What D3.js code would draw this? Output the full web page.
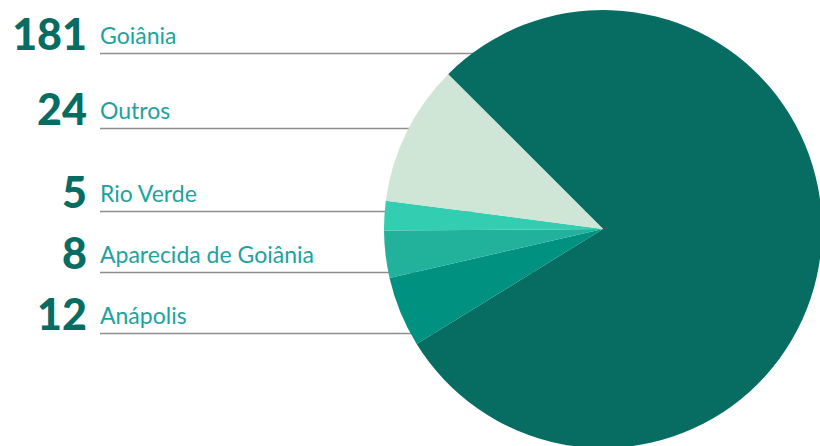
<!DOCTYPE html>
<html>
<head>
<meta charset="utf-8">
<script src="https://cdn.jsdelivr.net/npm/d3@7"></script>
<style>
  html, body { margin: 0; padding: 0; background: #fff; }
  svg { display: block; }
</style>
</head>
<body>
<svg id="chart" width="820" height="446"></svg>
<script>
// Data (pie order, clockwise starting at Goiânia)
const categories = ["Goiânia", "Anápolis", "Aparecida de Goiânia", "Rio Verde", "Outros"];
const values = [181, 12, 8, 5, 24];
const sliceColors = ["#076c61", "#009180", "#22b29c", "#33cdb1", "#cfe5d6"];

// Label rows (top to bottom)
const labelOrder = ["Goiânia", "Outros", "Rio Verde", "Aparecida de Goiânia", "Anápolis"];
const labelLineY = [53.5, 128.5, 211.5, 272.5, 333.5];

const svg = d3.select("#chart");
const cx = 603, cy = 229, R = 219;

const rows = labelOrder.map((name, i) => ({
  name,
  value: values[categories.indexOf(name)],
  y: labelLineY[i]
}));

const gLabels = svg.append("g");
gLabels.selectAll("line").data(rows).join("line")
  .attr("x1", 100).attr("x2", cx)
  .attr("y1", d => d.y).attr("y2", d => d.y)
  .attr("stroke", "#8f8f8f").attr("stroke-width", 1.7);

gLabels.selectAll("text.num").data(rows).join("text")
  .attr("class", "num")
  .attr("x", 87).attr("y", d => d.y - 4)
  .attr("text-anchor", "end")
  .attr("font-family", "Lato, sans-serif")
  .attr("font-weight", 900)
  .attr("font-size", 43)
  .attr("fill", "#076c61")
  .text(d => d.value);

gLabels.selectAll("text.name").data(rows).join("text")
  .attr("class", "name")
  .attr("x", 100).attr("y", d => d.y - 10)
  .attr("font-family", "Lato, sans-serif")
  .attr("font-weight", 400)
  .attr("font-size", 23)
  .attr("fill", "#1da39f")
  .text(d => d.name);

// pie
const pie = d3.pie().sort(null).value(d => d)
  .startAngle(-Math.PI / 4)
  .endAngle(-Math.PI / 4 + 2 * Math.PI);
const arc = d3.arc().innerRadius(0).outerRadius(R);

svg.append("g").attr("transform", `translate(${cx},${cy})`)
  .selectAll("path").data(pie(values)).join("path")
  .attr("d", arc)
  .attr("fill", (d, i) => sliceColors[i]);
</script>
</body>
</html>
